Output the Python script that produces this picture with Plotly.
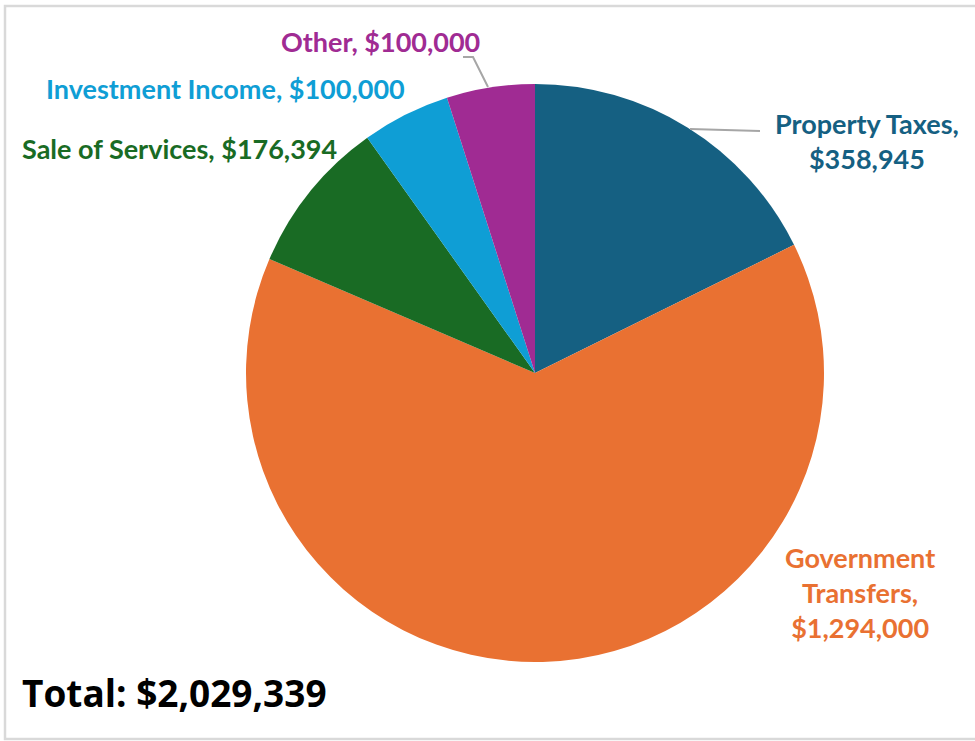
import plotly.graph_objects as go

# revenue sources, clockwise from 12 o'clock
categories = ["Property Taxes", "Government Transfers", "Sale of Services",
              "Investment Income", "Other"]
values = [358945, 1294000, 176394, 100000, 100000]
colors = ["#156082", "#E97132", "#196B24", "#0F9ED5", "#A02B93"]
label_texts = [
    "Property Taxes,<br>$358,945",
    "Government<br>Transfers,<br>$1,294,000",
    "Sale of Services, $176,394",
    "Investment Income, $100,000",
    "Other, $100,000",
]
total_text = "Total: $2,029,339"

W, H = 975, 741


def px(x):
    return x / W


def py(y):
    return 1 - y / H


# pie centre (535, 373), radius ~289 px
cx, cy, r = 535, 373, 289

fig = go.Figure()
fig.add_trace(go.Pie(
    labels=categories,
    values=values,
    sort=False,
    direction="clockwise",
    rotation=0,
    marker=dict(colors=colors, line=dict(width=0)),
    textinfo="none",
    hoverinfo="label+value+percent",
    showlegend=False,
    domain=dict(x=[px(cx - r), px(cx + r)], y=[py(cy + r), py(cy - r)]),
))

# label centres in pixels
label_pos = [(867, 141), (860, 592), (179, 148), (225, 88), (380, 42)]
for txt, col, (x, y) in zip(label_texts, colors, label_pos):
    fig.add_annotation(
        x=px(x), y=py(y), xref="paper", yref="paper",
        text="<b>" + txt + "</b>", showarrow=False, align="center",
        font=dict(family="Lato", size=27, color=col),
        xanchor="center", yanchor="middle",
    )

fig.add_annotation(
    x=px(20), y=py(692), xref="paper", yref="paper",
    text="<b>" + total_text + "</b>", showarrow=False,
    font=dict(family="Open Sans", size=37, color="#000000"),
    xanchor="left", yanchor="middle",
)

# leader lines
line_style = dict(color="#A6A6A6", width=2)
fig.add_shape(type="line", xref="paper", yref="paper",
              x0=px(690), y0=py(129), x1=px(760), y1=py(131), line=line_style)
fig.add_shape(type="path", xref="paper", yref="paper",
              path=f"M {px(488)},{py(87)} L {px(473)},{py(57)} L {px(463)},{py(57)}",
              line=line_style)

# outer frame: top, left and bottom edges only (right side is cut off)
fig.add_shape(type="path", xref="paper", yref="paper",
              path=(f"M {px(975)},{py(6)} L {px(5)},{py(6)} "
                    f"L {px(5)},{py(739)} L {px(975)},{py(739)}"),
              line=dict(color="#D9D9D9", width=2.5))

fig.update_layout(
    width=W, height=H,
    margin=dict(l=0, r=0, t=0, b=0),
    paper_bgcolor="white",
    plot_bgcolor="white",
)

fig.write_html(
    "out.html", config={"displayModeBar": False},
    post_script="document.body.style.margin='0';"
                "document.documentElement.style.overflow='hidden';"
                "document.body.style.overflow='hidden';",
)
